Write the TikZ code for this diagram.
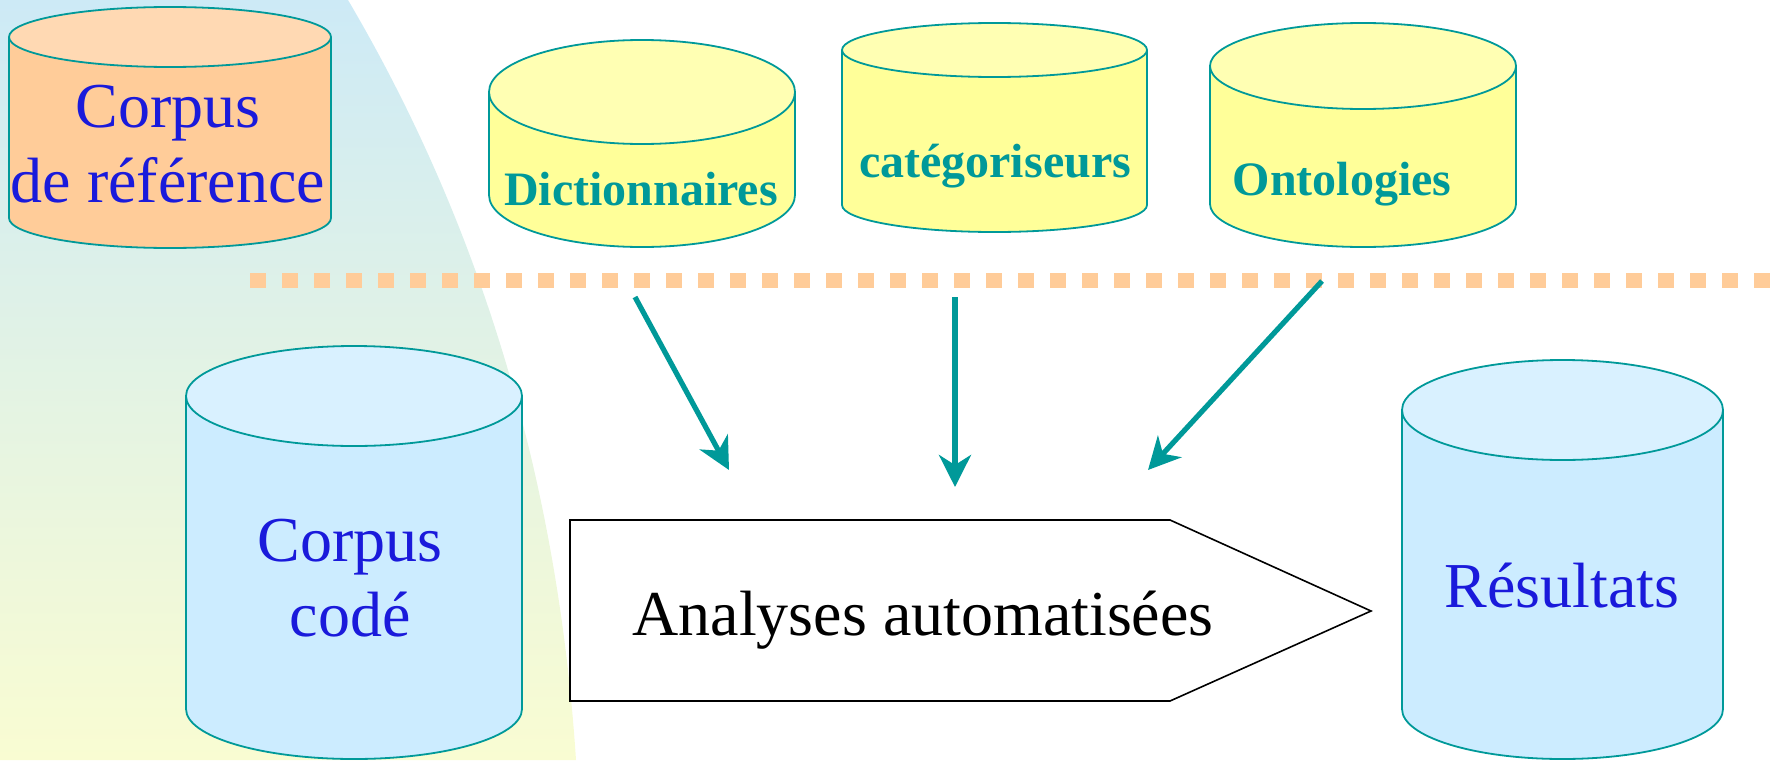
\documentclass[tikz,border=0pt]{standalone}
\usepackage{fontspec}
\setmainfont{Liberation Serif}
\usetikzlibrary{arrows.meta}

\definecolor{dbteal}{HTML}{009999}
\definecolor{dbblue}{HTML}{1A1ADB}
\definecolor{peach}{HTML}{FFCC99}
\definecolor{peachtop}{HTML}{FFD9B3}
\definecolor{lemon}{HTML}{FFFF99}
\definecolor{lemontop}{HTML}{FFFFB3}
\definecolor{sky}{HTML}{CCECFF}
\definecolor{skytop}{HTML}{D9F1FF}
\definecolor{bgtop}{HTML}{CDEAF6}
\definecolor{bgbot}{HTML}{F9FCD2}

% #1 x centre, #2 x radius, #3 top y, #4 bottom y, #5 y radius, #6 body, #7 lid
\newcommand{\drum}[7]{%
  \fill[#6] (#1-#2,#3) -- (#1-#2,#4) arc[start angle=180,end angle=0,x radius=#2,y radius=#5] -- (#1+#2,#3) -- cycle;
  \draw[rim] (#1-#2,#3) -- (#1-#2,#4) arc[start angle=180,end angle=0,x radius=#2,y radius=#5] -- (#1+#2,#3);
  \draw[rim,fill=#7] (#1,#3) ellipse[x radius=#2,y radius=#5];
}

\begin{document}
\begin{tikzpicture}[x=0.5pt,y=-0.5pt,
  rim/.style={dbteal,line width=0.9pt},
  flow/.style={dbteal,line width=2.6pt,-{Stealth[length=16pt,width=16pt,inset=5pt]}},
  big/.style={font=\fontsize{32}{37.5}\selectfont,align=center,inner sep=0pt},
  small/.style={font=\fontsize{24}{28}\selectfont\bfseries,text=dbteal,inner sep=0pt}]
	\useasboundingbox (0,0) rectangle (1776,760);
	\shade[top color=bgtop,bottom color=bgbot] (0,0) -- (348,0) .. controls (460,190) and (555,440) .. (576,760) -- (0,760) -- cycle;
	\draw[peach,line width=7.5pt,dash pattern=on 8pt off 8pt] (250,280) -- (1776,280);

	\drum{170}{161}{37}{218}{30}{peach}{peachtop}
	\drum{642}{153}{92}{195}{52}{lemon}{lemontop}
	\drum{994.5}{152.5}{50}{205}{27}{lemon}{lemontop}
	\drum{1363}{153}{66}{204}{43}{lemon}{lemontop}
	\drum{354}{168}{396}{709}{50}{sky}{skytop}
	\drum{1562.5}{160.5}{410}{709}{50}{sky}{skytop}

	\node[big,text=dbblue] (ref) at (168,144) {Corpus\\de référence};
	\node[big,text=dbblue] (coded) at (350,578) {Corpus\\codé};
	\node[big,text=dbblue] (res) at (1562,586) {Résultats};
	\node[small] (dict) at (641,189) {Dictionnaires};
	\node[small] (cat) at (995,166) {catégoriseurs};
	\node[small] (onto) at (1342,184) {Ontologies};

	\draw[black,line width=0.8pt,fill=white] (570,520) -- (1170,520) -- (1371,611) -- (1170,701) -- (570,701) -- cycle;
	\node[big] (analysis) at (923,620) {Analyses automatisées};

	\coordinate (s1) at (635,297);
	\coordinate (e1) at (729,470);
	\coordinate (s2) at (955,297);
	\coordinate (e2) at (955,487);
	\coordinate (s3) at (1322,281);
	\coordinate (e3) at (1148,470);
	\draw[flow] (s1) -- (e1);
	\draw[flow] (s2) -- (e2);
	\draw[flow] (s3) -- (e3);
\end{tikzpicture}
\end{document}
